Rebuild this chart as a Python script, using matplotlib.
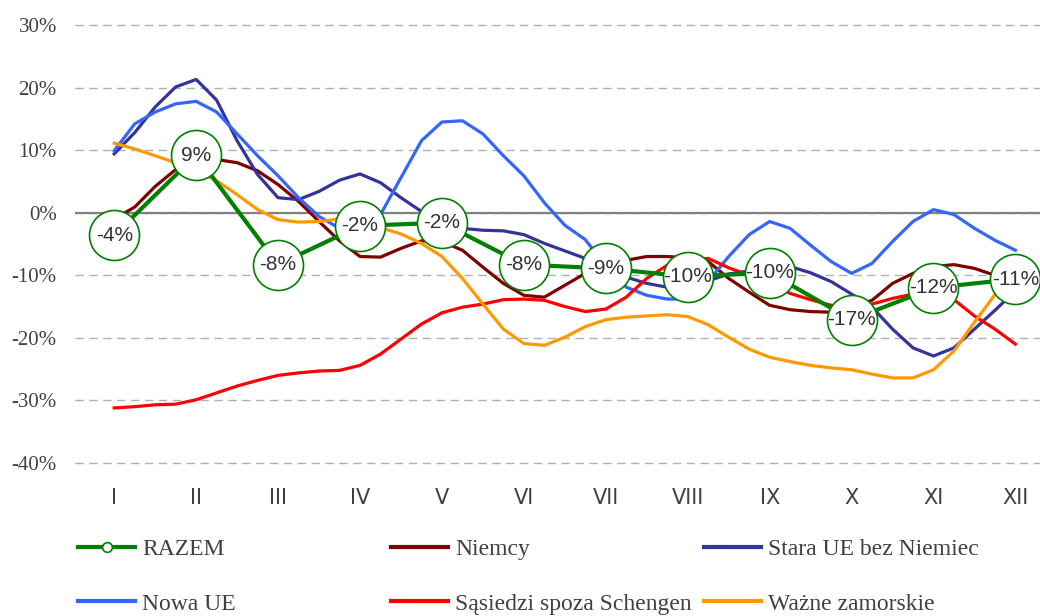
import numpy as np
import matplotlib.pyplot as plt
from matplotlib.lines import Line2D
from matplotlib.ticker import FuncFormatter

miesiace = ['I', 'II', 'III', 'IV', 'V', 'VI', 'VII', 'VIII', 'IX', 'X', 'XI', 'XII']

# RAZEM - wartosci miesieczne
razem = [-3.6, 9.2, -8.3, -2.1, -1.6, -8.3, -8.9, -10.2, -9.6, -17.1, -12.0, -10.6]

# pozostale serie - odczyt co ok. tydzien (4 punkty na miesiac)
niemcy = [-1.0, 0.9, 4.2, 6.9, 8.5, 8.5, 8.0, 6.7, 4.5, 1.8, -1.4, -4.5,
          -7.0, -7.1, -5.7, -4.5, -4.6, -6.0, -8.7, -11.3, -13.2, -13.5, -11.6, -9.7,
          -8.4, -7.6, -7.0, -7.0, -7.2, -7.8, -10.5, -12.7, -14.8, -15.5, -15.8, -15.9,
          -15.0, -14.0, -11.3, -9.7, -8.6, -8.3, -8.9, -10.0, -10.8]
stara_ue = [9.4, 12.8, 16.9, 20.1, 21.3, 18.0, 11.5, 6.1, 2.4, 2.1, 3.4, 5.2,
            6.2, 4.8, 2.4, 0.2, -1.8, -2.5, -2.8, -2.9, -3.5, -4.9, -6.1, -7.3,
            -8.9, -10.3, -11.3, -11.9, -12.0, -10.9, -9.8, -9.3, -9.0, -8.6, -9.6, -11.0,
            -13.0, -15.1, -18.6, -21.6, -22.9, -21.6, -18.6, -15.6, -12.5]
nowa_ue = [9.9, 14.2, 16.1, 17.4, 17.8, 16.1, 12.6, 9.1, 5.9, 2.4, -0.6, -2.5,
           -3.5, -0.3, 5.6, 11.5, 14.5, 14.7, 12.6, 9.1, 5.9, 1.6, -2.0, -4.3,
           -8.5, -11.9, -13.2, -13.8, -13.8, -11.0, -7.0, -3.5, -1.4, -2.5, -5.2, -7.8,
           -9.7, -8.1, -4.6, -1.4, 0.5, -0.3, -2.5, -4.4, -6.0]
sasiedzi = [-31.2, -31.0, -30.7, -30.6, -29.9, -28.8, -27.7, -26.8, -26.0, -25.6, -25.3, -25.2,
            -24.4, -22.6, -20.2, -17.8, -16.0, -15.1, -14.6, -13.9, -13.8, -14.0, -15.0, -15.8,
            -15.4, -13.5, -10.5, -8.4, -7.5, -7.3, -8.8, -10.0, -11.0, -12.9, -13.9, -14.8,
            -15.5, -14.6, -13.7, -13.0, -12.8, -13.9, -16.5, -18.6, -21.0]
zamorskie = [11.1, 10.2, 9.1, 8.0, 6.8, 5.1, 2.9, 0.5, -1.1, -1.5, -1.4, -1.0,
             -1.5, -2.4, -3.4, -4.9, -7.0, -10.5, -14.6, -18.6, -20.9, -21.2, -19.9, -18.2,
             -17.1, -16.7, -16.5, -16.3, -16.6, -17.9, -19.9, -21.8, -23.1, -23.8, -24.4, -24.8,
             -25.1, -25.8, -26.4, -26.4, -25.1, -22.1, -17.5, -13.1, -10.5]

kolory = {'RAZEM': '#008000', 'Niemcy': '#800000', 'Stara UE bez Niemiec': '#333399',
          'Nowa UE': '#3366ff', 'Sąsiedzi spoza Schengen': '#ff0000', 'Ważne zamorskie': '#ff9900'}

serie = [('Niemcy', niemcy), ('Stara UE bez Niemiec', stara_ue), ('Nowa UE', nowa_ue),
         ('Sąsiedzi spoza Schengen', sasiedzi), ('Ważne zamorskie', zamorskie)]

fig = plt.figure(figsize=(10.4, 6.16), dpi=100)
ax = fig.add_axes([0.072, 0.2484, 0.928, 0.711])

x_m = np.arange(len(miesiace))
for nazwa, y in serie:
    x = np.linspace(0, len(miesiace) - 1, len(y))
    ax.plot(x, y, color=kolory[nazwa], lw=2.3, solid_joinstyle='round', zorder=3)

ax.plot(x_m, razem, color=kolory['RAZEM'], lw=3.0, zorder=4)
ax.plot(x_m, razem, 'o', ms=36, mfc='white', mec=kolory['RAZEM'], mew=1.2, zorder=5)
for xi, v in zip(x_m, razem):
    ax.text(xi, v, f'{v:.0f}%', ha='center', va='center', fontsize=15,
            family='Liberation Sans', color='#333333', zorder=6)

ax.set_ylim(-40, 30)
ax.set_xlim(-0.48, 11.3)
ax.set_yticks(np.arange(-40, 31, 10))
ax.yaxis.set_major_formatter(FuncFormatter(lambda v, p: f'{v:.0f}%'))
ax.set_xticks(x_m)
ax.set_xticklabels(miesiace, family=['Liberation Sans Narrow', 'DejaVu Sans'], fontsize=15, color='#404040')
for lab in ax.get_yticklabels():
    lab.set_family('Liberation Serif')
    lab.set_fontsize(15)
    lab.set_color('#404040')
ax.tick_params(length=0)
ax.tick_params(axis='y', pad=13)
ax.tick_params(axis='x', pad=18)
for s in ax.spines.values():
    s.set_visible(False)
ax.yaxis.grid(True, linestyle=(0, (6, 4)), color='#b0b0b0', lw=1.0)
for gl in ax.get_ygridlines():
    gl.set_clip_on(False)
ax.axhline(0, color='#808080', lw=1.6, zorder=2)
ax.set_axisbelow(True)

# legenda w trzech kolumnach
uchwyty = {'RAZEM': Line2D([], [], color=kolory['RAZEM'], lw=3, marker='o', ms=7,
                           mfc='white', mec=kolory['RAZEM'], mew=1.2)}
for nazwa, _ in serie:
    uchwyty[nazwa] = Line2D([], [], color=kolory[nazwa], lw=3)
kolejnosc = ['RAZEM', 'Niemcy', 'Stara UE bez Niemiec', 'Nowa UE', 'Sąsiedzi spoza Schengen', 'Ważne zamorskie']
for i, x0 in enumerate([0.064, 0.365, 0.666]):
    nazwy = [kolejnosc[i], kolejnosc[i + 3]]
    fig.legend([uchwyty[n] for n in nazwy], nazwy, loc='upper left', bbox_to_anchor=(x0, 0.145),
               frameon=False, handlelength=2.4, handletextpad=0.3, labelspacing=1.4, borderpad=0,
               prop={'family': 'Liberation Serif', 'size': 17}, labelcolor='#404040')

fig.savefig('out.png', dpi=100)
